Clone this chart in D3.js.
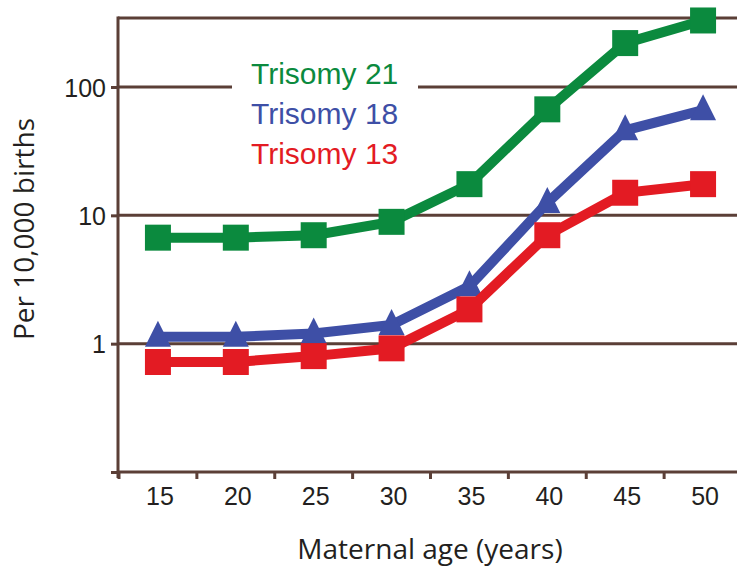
<!DOCTYPE html>
<html>
<head>
<meta charset="utf-8">
<script src="https://cdn.jsdelivr.net/npm/d3@7"></script>
<style>
  body { margin: 0; background: #fff; }
  svg text { font-family: "Liberation Sans", Arial, sans-serif; }
</style>
</head>
<body>
<div id="chart"></div>
<script>
// maternal age groups
var ages = ["15", "20", "25", "30", "35", "40", "45", "50"];

// rates per 10,000 births
var trisomy21 = [6.7, 6.7, 7.0, 8.9, 17.5, 67, 220, 330];
var trisomy18 = [1.13, 1.13, 1.2, 1.4, 2.8, 12.5, 46, 66];
var trisomy13 = [0.72, 0.72, 0.8, 0.92, 1.85, 7.0, 15, 17.5];

var seriesNames = ["Trisomy 21", "Trisomy 18", "Trisomy 13"];
var seriesColors = ["#0b8a3e", "#3e4fa6", "#e31b23"];
var seriesMarkers = ["square", "triangle", "square"];

var yTicks = [0.1, 1, 10, 100];
var yTickLabels = ["", "1", "10", "100"];
var yTop = 345;

function drawChart() {
  var width = 737, height = 572;
  var left = 118, right = 742, top = 18, bottom = 472;
  var axisColor = "#5b3f37";

  var svg = d3.select('#chart')
    .append('svg')
    .attr('width', width)
    .attr('height', height);

  var x = d3.scaleBand()
    .domain(ages)
    .range([left + 1, right])
    .padding(0);

  var y = d3.scaleLog()
    .domain([yTicks[0], yTop])
    .range([bottom, top]);

  // gridlines + top frame
  svg.append('g').selectAll('line')
    .data(yTicks.slice(1).concat([yTop]))
    .enter()
    .append('line')
    .attr('x1', left)
    .attr('x2', width)
    .attr('y1', function(d) { return y(d); })
    .attr('y2', function(d) { return y(d); })
    .attr('stroke', axisColor)
    .attr('stroke-width', 3);

  // y axis
  var yAxis = d3.axisLeft(y)
    .tickValues(yTicks)
    .tickSize(7)
    .tickPadding(5)
    .tickFormat(function(d, i) { return yTickLabels[i]; });

  var gy = svg.append('g')
    .attr('transform', 'translate(' + left + ',0)')
    .call(yAxis);
  gy.select('.domain').remove();
  gy.selectAll('line').attr('stroke', axisColor).attr('stroke-width', 3);
  gy.selectAll('text')
    .attr('fill', '#231f20')
    .style('font-size', '25px')
    .attr('dy', '0.36em');

  svg.append('line')
    .attr('x1', left).attr('x2', left)
    .attr('y1', y(yTop) - 1.5).attr('y2', bottom + 6)
    .attr('stroke', axisColor).attr('stroke-width', 3);

  // x axis
  var xAxis = d3.axisBottom(x).tickSize(0).tickPadding(15);
  var gx = svg.append('g')
    .attr('transform', 'translate(2,' + bottom + ')')
    .call(xAxis);
  gx.select('.domain').remove();
  gx.selectAll('text')
    .attr('fill', '#231f20')
    .style('font-size', '25px');

  svg.append('line')
    .attr('x1', left).attr('x2', width)
    .attr('y1', bottom).attr('y2', bottom)
    .attr('stroke', axisColor).attr('stroke-width', 3);

  svg.append('g').selectAll('line')
    .data(ages)
    .enter()
    .append('line')
    .attr('x1', function(d) { return x(d); })
    .attr('x2', function(d) { return x(d); })
    .attr('y1', bottom)
    .attr('y2', bottom + 7)
    .attr('stroke', axisColor)
    .attr('stroke-width', 3);

  // legend box hides the gridline behind it
  var legend = svg.append('g');
  legend.append('rect')
    .attr('x', 232).attr('y', 55)
    .attr('width', 186).attr('height', 118)
    .attr('fill', '#fff');

  legend.selectAll('text')
    .data(seriesNames)
    .enter()
    .append('text')
    .attr('x', 251)
    .attr('y', function(d, i) { return 84 + i * 40; })
    .attr('fill', function(d, i) { return seriesColors[i]; })
    .style('font-size', '30px')
    .text(function(d) { return d; });

  // series
  var allSeries = [trisomy21, trisomy18, trisomy13];
  var line = d3.line()
    .x(function(d, i) { return x(ages[i]) + x.bandwidth() / 2; })
    .y(function(d) { return y(d); });

  var tri = 'M0,-16L13,10L-13,10Z';

  allSeries.forEach(function(values, s) {
    var g = svg.append('g');
    g.append('path')
      .datum(values)
      .attr('d', line)
      .attr('fill', 'none')
      .attr('stroke', seriesColors[s])
      .attr('stroke-width', 10)
      .attr('stroke-linejoin', 'miter');

    var pts = g.selectAll('.pt')
      .data(values)
      .enter()
      .append('path')
      .attr('class', 'pt')
      .attr('transform', function(d, i) {
        return 'translate(' + (x(ages[i]) + x.bandwidth() / 2) + ',' + y(d) + ')';
      })
      .attr('fill', seriesColors[s]);
    if (seriesMarkers[s] == 'square') {
      pts.attr('d', d3.symbol(d3.symbolSquare, 26 * 26)());
    } else {
      pts.attr('d', tri);
    }
  });

  // axis titles
  svg.append('text')
    .attr('x', 430)
    .attr('y', 559)
    .attr('text-anchor', 'middle')
    .attr('fill', '#231f20')
    .style('font-family', '"Open Sans", sans-serif')
    .style('font-size', '28px')
    .text('Maternal age (years)');

  svg.append('text')
    .attr('transform', 'translate(34,229) rotate(-90)')
    .attr('text-anchor', 'middle')
    .attr('fill', '#231f20')
    .style('font-family', '"Open Sans", sans-serif')
    .style('font-size', '28px')
    .text('Per 10,000 births');
}

drawChart();
</script>
</body>
</html>
